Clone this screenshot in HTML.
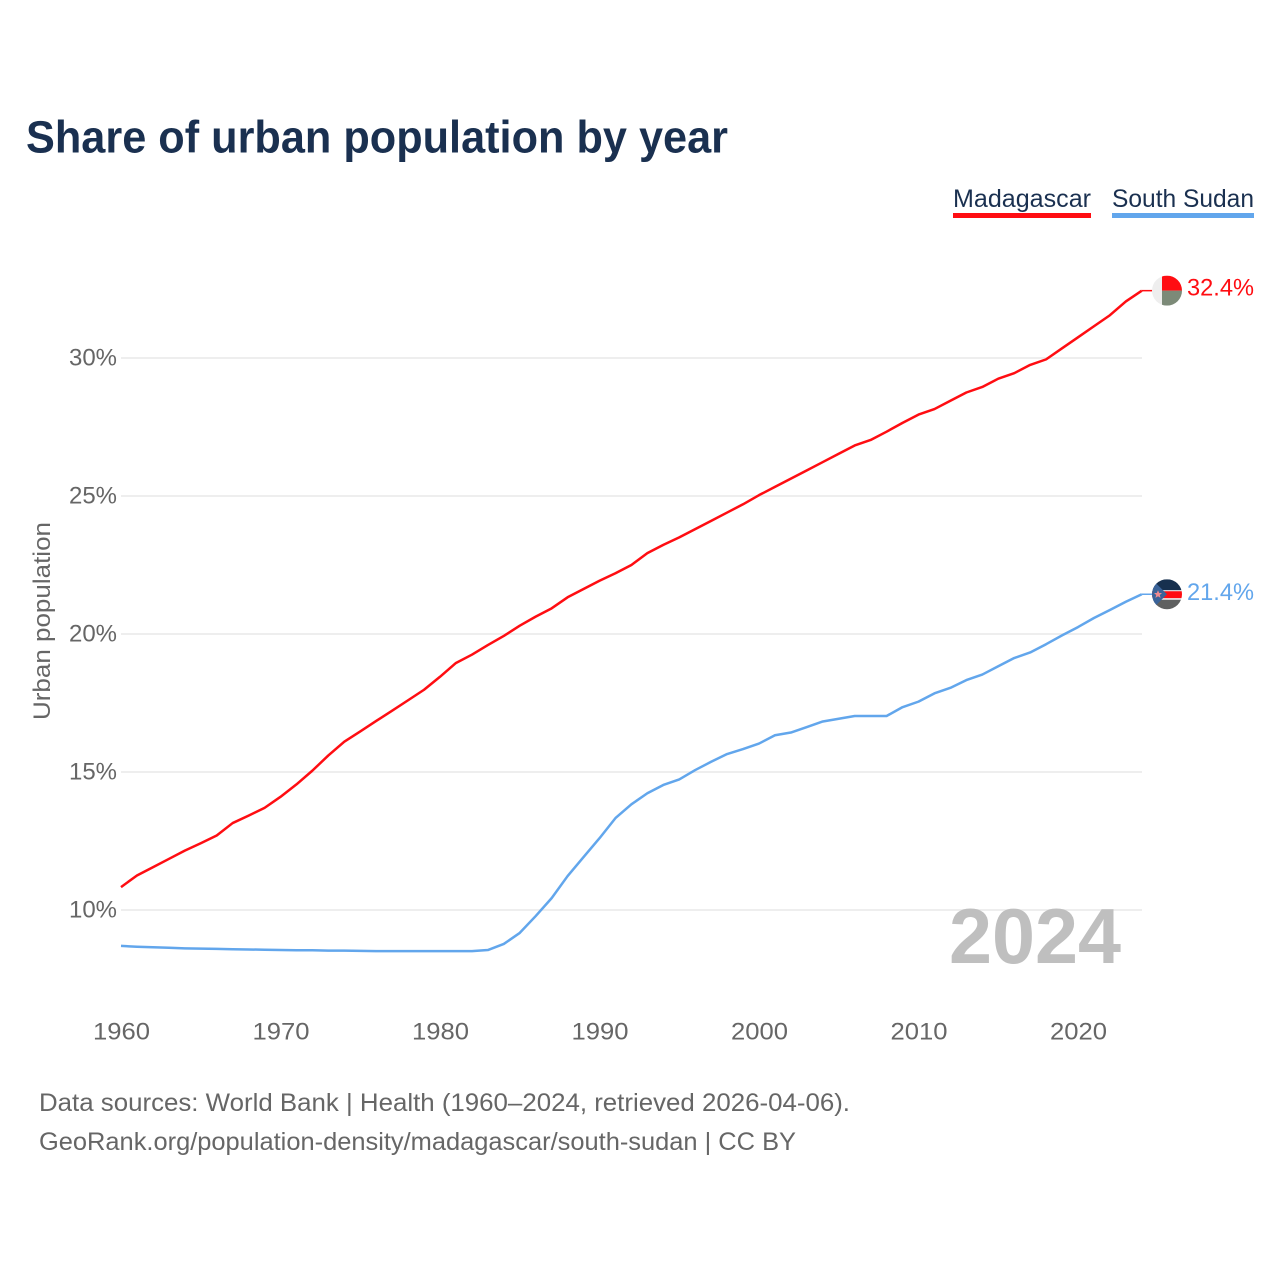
<!DOCTYPE html>
<html lang="en">
<head>
<meta charset="utf-8">
<title>Share of urban population by year</title>
<style>
html,body{margin:0;padding:0;background:#fff;}
#chart{display:block;width:1280px;height:1280px;}
text{font-family:"Liberation Sans",sans-serif;}
</style>
</head>
<body>
<svg id="chart" xmlns="http://www.w3.org/2000/svg" width="1280" height="1280" viewBox="0 0 1280 1280">
  <defs>
    <clipPath id="flag-clip"><circle cx="0" cy="0" r="15"></circle></clipPath>
  </defs>
  <rect x="0" y="0" width="1280" height="1280" fill="#ffffff"></rect>
  <text x="26" y="152.5" font-size="45" font-weight="700" fill="#1a3050" textLength="702" lengthAdjust="spacingAndGlyphs">Share of urban population by year</text>
  <g>
    <g>
      <text x="953" y="207" font-size="25" fill="#1a3050" textLength="138" lengthAdjust="spacingAndGlyphs">Madagascar</text>
      <rect x="953" y="213" width="138" height="5" fill="#ff0d12"></rect>
    </g>
    <g>
      <text x="1112" y="207" font-size="25" fill="#1a3050" textLength="142" lengthAdjust="spacingAndGlyphs">South Sudan</text>
      <rect x="1112" y="213" width="142" height="5" fill="#62a6ec"></rect>
    </g>
  </g>
  <g id="grid"></g>
  <g id="yticks"></g>
  <g id="xticks"></g>
  <text transform="translate(50,720) rotate(-90)" x="0" y="0" font-size="24" fill="#666666" textLength="198" lengthAdjust="spacingAndGlyphs">Urban population</text>
  <text x="949" y="963" font-size="78" font-weight="700" fill="#bfbfbf" textLength="172" lengthAdjust="spacingAndGlyphs">2024</text>
  <g id="series"></g>
  <g id="ends"></g>
  <g>
    <text x="39" y="1111" font-size="25" fill="#666666" textLength="811" lengthAdjust="spacingAndGlyphs">Data sources: World Bank | Health (1960–2024, retrieved 2026-04-06).</text>
    <text x="39" y="1150" font-size="25" fill="#666666" textLength="757" lengthAdjust="spacingAndGlyphs">GeoRank.org/population-density/madagascar/south-sudan | CC BY</text>
  </g>
</svg>
<script>
const years = [1960,1961,1962,1963,1964,1965,1966,1967,1968,1969,1970,1971,1972,1973,1974,1975,1976,1977,1978,1979,1980,1981,1982,1983,1984,1985,1986,1987,1988,1989,1990,1991,1992,1993,1994,1995,1996,1997,1998,1999,2000,2001,2002,2003,2004,2005,2006,2007,2008,2009,2010,2011,2012,2013,2014,2015,2016,2017,2018,2019,2020,2021,2022,2023,2024];
const madagascarValues = [10.83,11.25,11.55,11.85,12.15,12.42,12.7,13.15,13.42,13.7,14.1,14.55,15.05,15.6,16.1,16.47,16.85,17.22,17.6,17.98,18.45,18.95,19.25,19.6,19.93,20.3,20.63,20.93,21.33,21.63,21.93,22.2,22.5,22.93,23.23,23.5,23.8,24.1,24.4,24.7,25.03,25.33,25.63,25.93,26.23,26.53,26.83,27.03,27.33,27.65,27.95,28.15,28.45,28.75,28.95,29.25,29.45,29.75,29.95,30.35,30.75,31.15,31.55,32.05,32.44];
const southSudanValues = [8.7,8.67,8.65,8.63,8.61,8.6,8.59,8.58,8.57,8.56,8.55,8.54,8.54,8.53,8.53,8.52,8.51,8.51,8.51,8.51,8.51,8.51,8.51,8.55,8.77,9.17,9.78,10.43,11.23,11.92,12.6,13.33,13.83,14.23,14.53,14.73,15.07,15.37,15.65,15.83,16.03,16.33,16.43,16.63,16.83,16.93,17.03,17.03,17.03,17.35,17.55,17.85,18.05,18.33,18.53,18.83,19.13,19.33,19.63,19.95,20.25,20.58,20.87,21.17,21.44];
const yTickValues = [10,15,20,25,30];
const xTickValues = [1960,1970,1980,1990,2000,2010,2020];

const NS = 'http://www.w3.org/2000/svg';
const RED = '#ff0d12';
const BLUE = '#62a6ec';
function xScale(year){ return 121 + (year - 1960) * 15.95; }
function yScale(v){ return 910 - (v - 10) * 27.6; }
function make(tag, attrs, parent){
  const el = document.createElementNS(NS, tag);
  for (const k in attrs) el.setAttribute(k, attrs[k]);
  parent.appendChild(el);
  return el;
}
const gridG = document.getElementById('grid');
const yG = document.getElementById('yticks');
const xG = document.getElementById('xticks');
const seriesG = document.getElementById('series');
const endsG = document.getElementById('ends');

yTickValues.forEach(function(v){
  const line = make('line', {x1:121, x2:1142, y1:yScale(v), y2:yScale(v), stroke:'#eeeeee', 'stroke-width':2}, gridG);
  
  
  const t = make('text', {x:117, y:yScale(v) + 7.5, 'text-anchor':'end', 'font-size':24, fill:'#666666', textLength:48, lengthAdjust:'spacingAndGlyphs'}, yG);
  t.textContent = v + '%';
  
  
});

xTickValues.forEach(function(y){
  const t = make('text', {x:xScale(y) + 0.5, y:1039.5, 'text-anchor':'middle', 'font-size':24, fill:'#666666', textLength:57, lengthAdjust:'spacingAndGlyphs'}, xG);
  t.textContent = String(y);
  
  
});

function linePath(values){
  return values.map(function(v, i){
    return (i ? 'L' : 'M') + xScale(years[i]).toFixed(2) + ' ' + yScale(v).toFixed(2);
  }).join('');
}

const madagascarLine = make('path', {d:linePath(madagascarValues), fill:'none', stroke:RED, 'stroke-width':2.5, 'stroke-linejoin':'round'}, seriesG);


const southSudanLine = make('path', {d:linePath(southSudanValues), fill:'none', stroke:BLUE, 'stroke-width':2.5, 'stroke-linejoin':'round'}, seriesG);



const lastYear = years[years.length - 1];
const mVal = madagascarValues[madagascarValues.length - 1];
const sVal = southSudanValues[southSudanValues.length - 1];

const mLead = make('line', {x1:xScale(lastYear), x2:1152, y1:yScale(mVal), y2:yScale(mVal), stroke:RED, 'stroke-width':1.5}, endsG);


const sLead = make('line', {x1:xScale(lastYear), x2:1152, y1:yScale(sVal), y2:yScale(sVal), stroke:BLUE, 'stroke-width':1.5}, endsG);



const mFlag = make('g', {transform:'translate(1167,' + yScale(mVal) + ')', 'clip-path':'url(#flag-clip)'}, endsG);


make('rect', {x:-15, y:-15, width:30, height:30, fill:'#eeeeee'}, mFlag);
make('rect', {x:-5, y:-15, width:20, height:15, fill:'#ff0d12'}, mFlag);
make('rect', {x:-5, y:0, width:20, height:15, fill:'#7c8a78'}, mFlag);

const sFlag = make('g', {transform:'translate(1167,' + yScale(sVal) + ')', 'clip-path':'url(#flag-clip)'}, endsG);


make('rect', {x:-15, y:-15, width:30, height:11, fill:'#17304f'}, sFlag);
make('rect', {x:-15, y:-4, width:30, height:1.5, fill:'#e8e8e8'}, sFlag);
make('rect', {x:-15, y:-3, width:30, height:7, fill:'#ff0d12'}, sFlag);
make('rect', {x:-15, y:4, width:30, height:1.5, fill:'#e8e8e8'}, sFlag);
make('rect', {x:-15, y:5.5, width:30, height:10, fill:'#5f6060'}, sFlag);
make('path', {d:'M-15 -15L0 0L-15 15Z', fill:'#3a6399'}, sFlag);
make('path', {d:'M-9 -4L-7.8 -1.2L-5 -1.2L-7.2 0.8L-6.4 3.6L-9 2L-11.6 3.6L-10.8 0.8L-13 -1.2L-10.2 -1.2Z', fill:'#f08a90'}, sFlag);

const mLabel = make('text', {x:1187, y:yScale(mVal) + 5, 'font-size':24, fill:RED, textLength:67, lengthAdjust:'spacingAndGlyphs'}, endsG);
mLabel.textContent = mVal.toFixed(1) + '%';


const sLabel = make('text', {x:1187, y:yScale(sVal) + 5.5, 'font-size':24, fill:BLUE, textLength:67, lengthAdjust:'spacingAndGlyphs'}, endsG);
sLabel.textContent = sVal.toFixed(1) + '%';


</script>
</body>
</html>
